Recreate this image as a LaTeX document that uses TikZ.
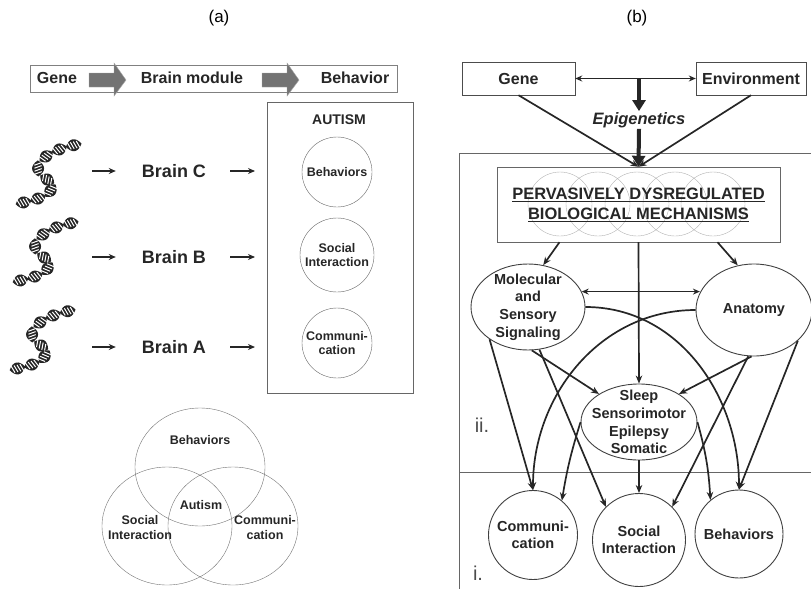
\documentclass[tikz,border=0pt]{standalone}
\usepackage{fontspec}
\setmainfont{Liberation Sans}
\usetikzlibrary{arrows.meta,shapes.geometric,decorations.markings}

\newcommand{\setfs}[2]{\fontsize{#1}{#2}\selectfont}

\tikzset{
  tag/.style={font=\setfs{17}{20}, inner sep=0},
  banner/.style={font=\setfs{16}{19}\bfseries, text=black!85, inner sep=0},
  brain/.style={font=\setfs{18}{21}\bfseries, text=black!85, inner sep=0},
  trait/.style={circle, draw=black!60, minimum size=70, inner sep=0, align=center,
    font=\setfs{12.5}{14.5}\bfseries, text=black!85},
  venn/.style={draw=black!55},
  vtext/.style={align=center, inner sep=0, font=\setfs{12.5}{15}\bfseries, text=black!85},
  arr/.style={-{Stealth[length=7pt,width=6pt]}, line width=1.8pt, black!85},
  gblock/.style={fill=black!55, draw=black!35},
  ibox/.style={draw=black!70, minimum height=33, inner sep=0,
    font=\setfs{16}{19}\bfseries, text=black!85},
  mechbox/.style={draw=black!60, minimum width=283, minimum height=75, inner sep=0,
    align=center, font=\setfs{16.5}{20}\bfseries, text=black!85},
  oval/.style={ellipse, draw=black!75, line width=0.9pt, inner sep=0},
  ovaltext/.style={align=center, inner sep=0, font=\setfs{14.5}{17.7}\bfseries, text=black!85},
  outcome/.style={circle, draw=black!75, line width=0.9pt, inner sep=0, align=center,
    font=\setfs{14.5}{17.5}\bfseries, text=black!85},
  link/.style={-{Stealth[length=8pt,width=6.5pt]}, line width=1.7pt, black!85},
  dbl/.style={{Stealth[length=7pt,width=6pt]}-{Stealth[length=7pt,width=6pt]}, line width=1.7pt, black!85},
  fat/.style={-{Triangle[length=11pt,width=13pt]}, line width=4pt, black!85},
  level/.style={font=\setfs{20}{22}, text=black!70, inner sep=0},
  twist/.style={decorate, decoration={markings,
    mark=between positions 0.06 and 0.95 step 15pt with {
      \fill[black!85] (-8,0) .. controls (-3,-8) and (3,-8) .. (8,0)
        .. controls (3,8) and (-3,8) .. (-8,0) -- cycle;
      \foreach \u in {-4.5,-1.5,1.5,4.5}
        \draw[white, line width=1] ({\u-1.2},-3.6) -- ({\u+1.2},3.6);
    }}},
  helix/.pic={
    \path[twist] (34,-30) .. controls (10,-27) and (-14,-14) .. (-8,-2)
      .. controls (-3,8) and (12,6) .. (4,16) .. controls (-4,26) and (-20,27) .. (-34,31);
  }
}

\begin{document}
\begin{tikzpicture}[x=1pt, y=-1pt]
    \useasboundingbox (0,0) rectangle (811,589);

    \node[tag] (ta) at (219,18) {(a)};
    \node[tag] (tb) at (637,18) {(b)};

    % (a) banner
    \draw[black!50] (30,65) rectangle (397,92);
    \foreach \x in {89,262}
        \draw[gblock] (\x,73) -- ({\x+25},73) -- ({\x+25},63) -- ({\x+37},80) -- ({\x+25},96) -- ({\x+25},87) -- (\x,87) -- cycle;
    \node[banner] (bg) at (57,78) {Gene};
    \node[banner] (bm) at (192,78) {Brain module};
    \node[banner] (bb) at (355,78) {Behavior};

    % autism box
    \draw[black!60] (267,102) rectangle (413,393);
    \node[banner, font=\setfs{14}{16}\bfseries] (aut) at (339,120) {AUTISM};
    \node[trait] (tC) at (337,172) {Behaviors};
    \node[trait, minimum size=74] (tB) at (337,255) {Social\\Interaction};
    \node[trait] (tA) at (337,343) {Communi-\\cation};

    % genes and brains
    \pic at (47,174) {helix};
    \pic at (44,252) {helix};
    \pic at (41,340) {helix};
    \foreach \y/\n in {171/C,257/B,347/A}{
        \node[brain] (brain\n) at (174,\y) {Brain \n};
        \coordinate (dna\n) at (92,\y);
        \coordinate (mod\n) at (255,\y);
        \draw[arr] (dna\n) -- ([xshift=-26]brain\n.west);
        \draw[arr] ([xshift=24]brain\n.east) -- (mod\n);
    }

    % venn
    \draw[venn] (200,467) ellipse [x radius=65, y radius=59];
    \draw[venn] (167,526) ellipse [x radius=65, y radius=59];
    \draw[venn] (233,526) ellipse [x radius=65, y radius=59];
    \node[vtext] (vb) at (200,440) {Behaviors};
    \node[vtext] (va) at (201,505) {Autism};
    \node[vtext] (vs) at (140,528) {Social\\Interaction};
    \node[vtext] (vc) at (265,528) {Communi-\\cation};

    % (b) top
    \node[ibox, minimum width=113] (gene) at (518.5,78.5) {Gene};
    \node[ibox, minimum width=110] (env) at (751,78.5) {Environment};
    \node[font=\setfs{16.5}{19}\bfseries\itshape, text=black!85, inner sep=1] (epi) at (639,120) {Epigenetics};
    \draw[dbl] (gene.east) -- (env.west);

    % levels
    \draw[black!60] (811,153) -- (459,153) -- (459,589);
    \draw[black!60] (459,472) -- (811,472);
    \node[level] (lii) at (482,425) {ii.};
    \node[level] (li) at (478,573) {i.};

    % mechanisms
    \foreach \cx in {560,598,637,675,713}
        \draw[black!30] (\cx,204) circle [radius=32];
    \node[mechbox] (mech) at (638.5,204.5) {\underline{PERVASIVELY DYSREGULATED}\\\underline{BIOLOGICAL MECHANISMS}};
    \draw[fat] (epi.north |- gene.east) -- (epi.north);
    \draw[fat] (epi.south) -- (mech.north);
    \draw[link] (gene.south) -- (mech.north);
    \draw[link] (env.south) -- (mech.north);

    % ii.
    \node[oval, minimum width=114, minimum height=86] (mol) at (528,307) {};
    \node[ovaltext] (molt) at (mol) {Molecular\\and\\Sensory\\Signaling};
    \node[oval, minimum width=116, minimum height=92] (ana) at (754,310) {};
    \node[ovaltext] (anat) at (ana) {Anatomy};
    \node[oval, minimum width=116, minimum height=76] (slp) at (639,422) {};
    \node[ovaltext] (slpt) at (slp) {Sleep\\Sensorimotor\\Epilepsy\\Somatic};

    % i.
    \node[outcome, minimum size=89] (comm) at (533,535) {Communi-\\cation};
    \node[outcome, minimum size=93] (soc) at (639,540) {Social\\Interaction};
    \node[outcome, minimum size=88] (beh) at (739,534) {Behaviors};

    \draw[link] ([xshift=-79]mech.south) -- (mol.70);
    \draw[link] ([xshift=79]mech.south) -- (ana.110);
    \draw[link] (mech.south) -- (slp.north);
    \draw[dbl] (mol.16) -- (mol.16 -| ana.162);
    \draw[link] (mol.east) to[out=0, in=90] (beh.north);
    \draw[link] (ana.west) to[out=180, in=90] (comm.north);
    \draw[link] (mol.220) -- (comm.north);
    \draw[link] (mol.-85) -- (slp.145);
    \draw[link] (mol.-75) -- (soc.135);
    \draw[link] (ana.-93) -- (slp.35);
    \draw[link] (ana.-97) -- (soc.45);
    \draw[link] (ana.-35) -- (beh.north);
    \draw[link] (slp.west) to[bend right=4] (comm.50);
    \draw[link] (slp.east) to[bend left=6] (beh.130);
    \draw[link] (slp.south) -- (soc.north);
\end{tikzpicture}
\end{document}
